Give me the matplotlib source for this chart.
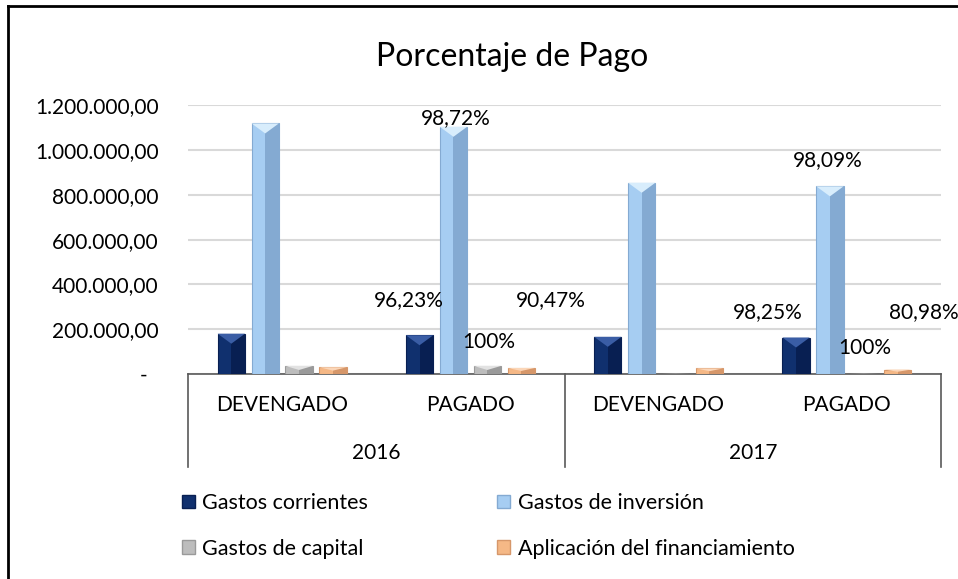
import matplotlib.pyplot as plt
from matplotlib.patches import Patch, Polygon
from matplotlib.lines import Line2D
from matplotlib.ticker import FuncFormatter
import numpy as np

plt.rcParams['font.family'] = ['Lato', 'DejaVu Sans']

# data
categories = ['DEVENGADO', 'PAGADO', 'DEVENGADO', 'PAGADO']
years = ['2016', '2017']
series = ['Gastos corrientes', 'Gastos de inversión', 'Gastos de capital',
          'Aplicación del financiamiento']
corrientes = [180000, 173000, 166000, 163000]
inversion = [1119000, 1104000, 854000, 838000]
capital = [36000, 36000, 2000, 2000]
aplicacion = [30000, 27000, 25000, 20000]

# percentage labels: series index, category index, text
pct_series = [0, 1, 2, 3, 0, 1, 2, 3]
pct_cat = [1, 1, 1, 1, 3, 3, 3, 3]
pct_text = ['96,23%', '98,72%', '100%', '90,47%', '98,25%', '98,09%', '100%', '80,98%']
# where Excel put them (y in data units, x shift in pixels)
pct_y = [331000, 1145000, 143000, 331000, 277000, 957000, 116000, 277000]
pct_dx = [-11, 2, 1, 30, -28, -2, 1, 26]

face = ['#10306E', '#A6CDF2', '#BDBDBD', '#F5B886']
dark = ['#081F52', '#84AAD2', '#9A9A9A', '#D6976A']
light = ['#3A5DA5', '#D8EDFC', '#E2E2E2', '#FBD6B8']

W, H = 958, 579
fig = plt.figure(figsize=(W / 100, H / 100), dpi=100)
ax = fig.add_axes([188 / W, 1 - 374 / H, (941 - 188) / W, (374 - 105.3) / H])

values = [corrientes, inversion, capital, aplicacion]
x = np.arange(len(categories))
bw = 0.145
step = 0.18
ax.set_xlim(-0.5, len(categories) - 0.5)
ax.set_ylim(0, 1200000)

# data units per pixel, for the bevel
ypp = 1200000 / (374 - 105.3)

for k, vals in enumerate(values):
    pos = x + (k - 1.5) * step
    b = ax.bar(pos, vals, bw, color=face[k], edgecolor=dark[k], linewidth=0.8, zorder=3)
    # darker right face
    ax.bar(pos + bw * 0.25, vals, bw * 0.5, color=dark[k], linewidth=0, zorder=3.1)
    for r in b.patches:
        x0, w, h = r.get_x(), r.get_width(), r.get_height()
        if h <= 0:
            continue
        d = min(10 * ypp, h / 2)
        tri = Polygon([[x0, h], [x0 + w, h], [x0 + w / 2, h - d]], closed=True,
                      facecolor=light[k], edgecolor='none', zorder=3.2)
        ax.add_patch(tri)

for s, c, t, yv, dx in zip(pct_series, pct_cat, pct_text, pct_y, pct_dx):
    bx = c + (s - 1.5) * step
    ax.annotate(t, xy=(bx, yv), xytext=(dx * 0.72, 0), textcoords='offset points',
                ha='center', va='center', fontsize=15, color='black', zorder=5)

def fmt(v, pos):
    if v == 0:
        return '-  '
    s = f'{v:,.2f}'
    return s.replace(',', 'X').replace('.', ',').replace('X', '.')

ax.yaxis.set_major_formatter(FuncFormatter(fmt))
ax.set_yticks(np.arange(0, 1200001, 200000))
ax.tick_params(axis='y', length=0, pad=21, labelsize=15)
ax.set_xticks([])
ax.grid(axis='y', color='#D9D9D9', linewidth=1.5, zorder=0)
ax.set_axisbelow(True)
for side in ['left', 'right', 'top']:
    ax.spines[side].set_visible(False)
ax.spines['bottom'].set_color('#595959')
ax.spines['bottom'].set_linewidth(1.2)

# two-level category axis
trans = ax.get_xaxis_transform()
axh = 374 - 105.3
for i, c in enumerate(categories):
    ax.annotate(c, xy=(i, 0), xycoords=trans, xytext=(0, -31 * 0.72),
                textcoords='offset points', ha='center', va='center', fontsize=15)
for j, yr in enumerate(years):
    ax.annotate(yr, xy=(2 * j + 0.5, 0), xycoords=trans, xytext=(0, -79 * 0.72),
                textcoords='offset points', ha='center', va='center', fontsize=15)
for xs in [-0.5, 1.5, 3.5]:
    ax.plot([xs, xs], [0, -93 / axh], transform=trans, clip_on=False,
            color='#595959', linewidth=1.2)

fig.text(512 / W, 1 - 57 / H, 'Porcentaje de Pago', ha='center', va='center', fontsize=23)

handles = [Patch(facecolor=face[k], edgecolor=dark[k], label=series[k]) for k in range(4)]
order = [0, 2, 1, 3]
fig.legend([handles[i] for i in order], [series[i] for i in order], ncol=2,
           loc='upper left', bbox_to_anchor=(182 / W, 1 - 493 / H), frameon=False,
           fontsize=15.5, handlelength=0.6, handleheight=0.6, handletextpad=0.35,
           columnspacing=6.0, labelspacing=1.2, borderpad=0, borderaxespad=0)

# chart frame
fig.add_artist(Line2D([8 / W, 8 / W], [0, 1 - 6 / H], transform=fig.transFigure,
                      color='black', linewidth=2))
fig.add_artist(Line2D([8 / W, 1], [1 - 6 / H, 1 - 6 / H], transform=fig.transFigure,
                      color='black', linewidth=2))

fig.savefig('out.png', dpi=100)
